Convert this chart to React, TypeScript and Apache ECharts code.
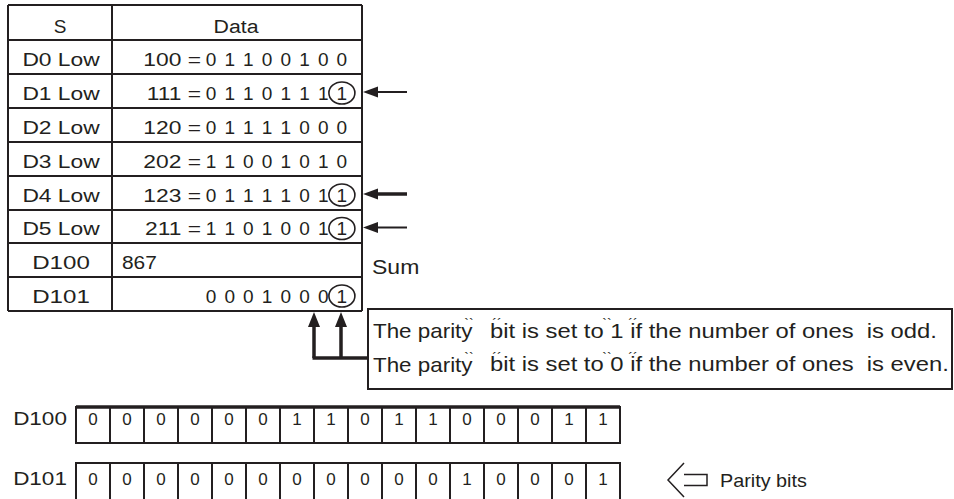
import React, { useEffect, useRef } from "react";
import * as echarts from "echarts";

// ---------- data ----------
const headerLabels = ["S", "Data"];
const rowLabels = ["D0 Low", "D1 Low", "D2 Low", "D3 Low", "D4 Low", "D5 Low"];
const rowValues = [100, 111, 120, 202, 123, 211];
const rowBits = [
  [0, 1, 1, 0, 0, 1, 0, 0],
  [0, 1, 1, 0, 1, 1, 1, 1],
  [0, 1, 1, 1, 1, 0, 0, 0],
  [1, 1, 0, 0, 1, 0, 1, 0],
  [0, 1, 1, 1, 1, 0, 1, 1],
  [1, 1, 0, 1, 0, 0, 1, 1],
];
const sumLabel = "D100";
const sumValue = 867;
const sumNote = "Sum";
const parityLabel = "D101";
const parityLowBits = [0, 0, 0, 1, 0, 0, 0, 1];
const noteHead = "The parity";
const noteTails = [
  "bit is set to 1 if the number of ones  is odd.",
  "bit is set to 0 if the number of ones  is even.",
];
const registerLabels = ["D100", "D101"];
const d100Bits = [0, 0, 0, 0, 0, 0, 1, 1, 0, 1, 1, 0, 0, 0, 1, 1];
const d101Bits = [0, 0, 0, 0, 0, 0, 0, 0, 0, 0, 0, 1, 0, 0, 0, 1];
const parityBitsLabel = "Parity bits";

// ---------- drawing helpers ----------
const FONT = '"Liberation Sans", Arial, sans-serif';
const INK = "#231f20";

function txt(
  text: string,
  x: number,
  y: number,
  size: number,
  align: "left" | "center" | "right" = "center",
  scaleX = 1
): any {
  return {
    type: "text",
    x,
    y,
    scaleX,
    silent: true,
    style: {
      text,
      fill: INK,
      fontSize: size,
      fontFamily: FONT,
      align,
      textAlign: align,
      verticalAlign: "middle",
      textVerticalAlign: "middle",
    },
  };
}
function ln(x1: number, y1: number, x2: number, y2: number, w = 2): any {
  return {
    type: "line",
    silent: true,
    shape: { x1, y1, x2, y2 },
    style: { stroke: INK, lineWidth: w },
  };
}
function poly(points: number[][]): any {
  return { type: "polygon", silent: true, shape: { points }, style: { fill: INK } };
}
function pline(points: number[][], w = 1.5): any {
  return {
    type: "polyline",
    silent: true,
    shape: { points },
    style: { stroke: INK, fill: "none", lineWidth: w },
  };
}

function buildElements(): any[] {
  const els: any[] = [];
  // table geometry
  const tL = 8, tC = 112, tR = 362;
  const rowLines = [5, 40, 74, 108, 142, 176, 210, 243, 277, 311];
  const bitX = (i: number) => 211 + i * 18.7;
  const rowMid = (r: number) => (rowLines[r] + rowLines[r + 1]) / 2;

  rowLines.forEach((y) => els.push(ln(tL, y, tR, y, 2)));
  [tL, tC, tR].forEach((x) => els.push(ln(x, rowLines[0], x, rowLines[rowLines.length - 1], 2)));

  // header
  els.push(txt(headerLabels[0], 60, 26, 19));
  els.push(txt(headerLabels[1], 236, 26, 19, "center", 1.12));

  // data rows
  rowLabels.forEach((lab, r) => {
    const y = rowMid(r + 1) + 2;
    els.push(txt(lab, 61, y, 19, "center", 1.2));
    els.push(txt(rowValues[r] + " =", 201, y, 19, "right", 1.2));
    rowBits[r].forEach((b, i) => els.push(txt(String(b), bitX(i), y, 19)));
    if (rowBits[r][7] === 1) {
      els.push({
        type: "ellipse",
        silent: true,
        shape: { cx: bitX(7), cy: y, rx: 13, ry: 11 },
        style: { fill: "none", stroke: INK, lineWidth: 1.6 },
      });
      const ay = rowMid(r + 1) + 1;
      const w = r === 4 ? 3.5 : 2;
      els.push(ln(375, ay, 407, ay, w));
      els.push(poly([[363, ay], [378, ay - 5.5], [378, ay + 5.5]]));
    }
  });

  // sum row
  const ySum = rowMid(7) + 2;
  els.push(txt(sumLabel, 61, ySum, 19, "center", 1.27));
  els.push(txt(String(sumValue), 122, ySum, 19, "left", 1.1));
  els.push(txt(sumNote, 372, 267, 20, "left", 1.15));

  // parity row
  const yPar = rowMid(8) + 2;
  els.push(txt(parityLabel, 61, yPar, 19, "center", 1.27));
  parityLowBits.forEach((b, i) => els.push(txt(String(b), bitX(i), yPar, 19)));
  els.push({
    type: "ellipse",
    silent: true,
    shape: { cx: bitX(7), cy: yPar, rx: 13, ry: 11 },
    style: { fill: "none", stroke: INK, lineWidth: 1.6 },
  });

  // bracket arrows up into the table
  const bx1 = 314, bx2 = 341, by = 358;
  els.push(ln(bx1, 325, bx1, by, 3.5));
  els.push(ln(bx2, 325, bx2, by, 3.5));
  els.push(ln(bx1 - 1.5, by, 368, by, 3.5));
  els.push(poly([[bx1, 312], [bx1 - 6, 327], [bx1 + 6, 327]]));
  els.push(poly([[bx2, 312], [bx2 - 6, 327], [bx2 + 6, 327]]));

  // note box
  els.push({
    type: "rect",
    silent: true,
    shape: { x: 368, y: 309, width: 584, height: 80 },
    style: { fill: "none", stroke: INK, lineWidth: 2 },
  });
  const noteYs = [331, 364.5];
  noteTails.forEach((tail, k) => {
    const y = noteYs[k];
    els.push(txt(noteHead, 373, y, 20, "left", 1.12));
    els.push(txt(tail, 490, y, 20, "left", 1.19));
    els.push(txt("``", 469, y - 7, 14, "center"));
    els.push(txt("\u00b4\u00b4", 497, y - 7, 14, "center"));
    els.push(txt("``", 607, y - 7, 14, "center"));
    els.push(txt("\u00b4\u00b4", 633, y - 7, 14, "center"));
  });

  // registers
  const rL = 76, cw = 34;
  const regs = [
    { label: registerLabels[0], bits: d100Bits, top: 407, h: 36, ty: 419 },
    { label: registerLabels[1], bits: d101Bits, top: 463, h: 40, ty: 479 },
  ];
  regs.forEach((rg) => {
    els.push(txt(rg.label, 40, rg.ty, 18, "center", 1.25));
    const right = rL + cw * rg.bits.length;
    els.push({
      type: "rect",
      silent: true,
      shape: { x: rL, y: rg.top, width: right - rL, height: rg.h },
      style: { fill: "none", stroke: INK, lineWidth: 2 },
    });
    rg.bits.forEach((b, i) => {
      if (i > 0) els.push(ln(rL + cw * i, rg.top, rL + cw * i, rg.top + rg.h, 2));
      els.push(txt(String(b), rL + cw * i + cw / 2, rg.ty, 17));
    });
  });
  els.push(ln(rL, 407, rL + cw * 16, 407, 3.5));

  // hollow arrow + label
  els.push(pline([[684, 463], [668, 480], [684, 497]], 1.5));
  els.push(pline([[684, 474.5], [707, 474.5], [707, 485.5], [684, 485.5]], 1.5));
  els.push(txt(parityBitsLabel, 720, 481, 18, "left", 1.1));

  return els;
}

export default function App() {
  const ref = useRef<HTMLDivElement>(null);
  useEffect(() => {
    if (!ref.current) return;
    const chart = echarts.init(ref.current, undefined, { renderer: "svg" });
    chart.setOption({
      animation: false,
      backgroundColor: "#ffffff",
      graphic: { elements: buildElements() },
    });
    return () => chart.dispose();
  }, []);
  return (
    <div
      ref={ref}
      style={{ position: "fixed", left: 0, top: 0, width: 954, height: 499, background: "#fff" }}
    />
  );
}
